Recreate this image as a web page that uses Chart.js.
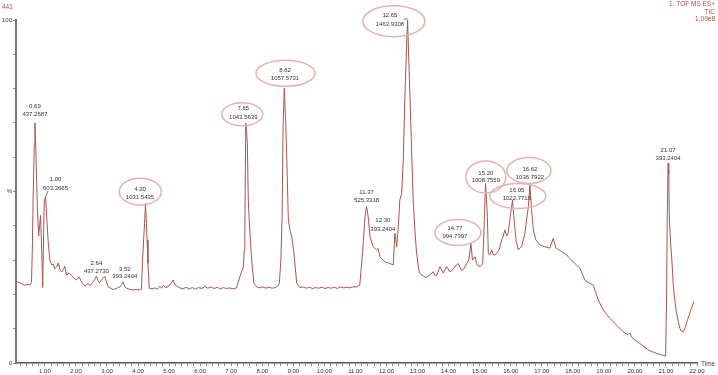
<!DOCTYPE html>
<html>
<head>
<meta charset="utf-8">
<script src="https://cdn.jsdelivr.net/npm/chart.js@4.4.1/dist/chart.umd.min.js"></script>
<style>
  html, body { margin: 0; padding: 0; background: #ffffff; }
  #wrap { width: 718px; height: 375px; }
  canvas { display: block; }
</style>
</head>
<body>
<div id="wrap"><canvas id="c" width="718" height="375"></canvas></div>
<script>
// ---------- DATA ----------
const times = [
  0.07,0.15,0.25,0.35,0.45,0.52,0.57,0.60,0.62,0.66,0.68,0.71,0.73,0.76,0.80,0.83,0.86,0.89,0.93,0.96,0.98,
  1.02,1.05,1.07,1.11,1.16,1.22,1.27,1.32,1.38,1.43,1.48,1.54,1.60,1.64,1.70,1.78,1.86,1.93,
  2.02,2.10,2.18,2.24,2.29,2.35,2.40,2.45,2.50,2.58,2.66,2.71,2.75,2.83,2.88,2.93,2.98,
  3.04,3.12,3.20,3.26,3.34,3.42,3.47,3.52,3.57,3.63,3.72,3.84,3.95,
  4.05,4.11,4.14,4.18,4.21,4.24,4.27,4.29,4.32,4.36,4.45,4.55,4.62,4.70,4.76,4.81,4.88,4.97,
  5.05,5.13,5.20,5.28,5.35,5.45,5.55,5.65,5.75,5.85,5.95,
  6.05,6.15,6.25,6.35,6.45,6.55,6.65,6.75,6.85,6.95,
  7.06,7.17,7.28,7.39,7.42,7.44,7.47,7.50,7.52,7.55,7.60,7.66,7.73,7.82,7.92,
  8.02,8.12,8.22,8.32,8.42,8.50,8.55,8.60,8.64,8.67,8.71,8.76,8.80,8.84,8.90,8.95,
  9.02,9.11,9.21,9.32,9.42,9.52,9.62,9.72,9.82,9.92,
  10.02,10.12,10.22,10.32,10.42,10.52,10.62,10.72,10.82,10.92,
  11.04,11.14,11.23,11.31,11.36,11.41,11.47,11.57,11.68,11.73,11.79,11.87,11.95,
  12.03,12.11,12.22,12.27,12.33,12.38,12.43,12.49,12.54,12.59,12.65,12.68,12.71,12.76,12.81,12.86,12.92,12.97,
  13.06,13.18,13.26,13.34,13.42,13.51,13.56,13.62,13.72,13.83,13.94,
  14.04,14.12,14.20,14.31,14.42,14.50,14.58,14.65,14.72,14.77,14.85,14.92,
  15.01,15.10,15.14,15.19,15.25,15.28,15.33,15.39,15.44,15.50,15.55,15.63,15.71,15.76,15.81,15.87,15.92,
  16.00,16.06,16.10,16.17,16.24,16.35,16.46,16.51,16.57,16.62,16.67,16.73,16.81,16.94,
  17.10,17.26,17.37,17.46,17.55,17.64,17.72,17.80,17.90,
  18.01,18.12,18.23,18.28,18.39,18.47,18.55,18.62,18.66,18.74,18.82,18.90,18.98,
  19.08,19.20,19.33,19.46,19.57,19.68,19.76,19.84,19.90,
  20.00,20.16,20.30,20.43,20.56,20.70,20.85,20.99,
  21.02,21.04,21.07,21.09,21.11,21.15,21.19,21.24,21.29,21.34,21.40,21.45,21.50,21.56,21.61,21.66,21.74,21.82,21.90
];
const intensity = [
  23.9,23.5,23.1,22.7,22.9,22.8,23.5,35,47.5,64,70,62,55,45,37,40,43,35,22,38,47,
  48.4,44,41,35,30,28.6,28.8,27.5,28,29.2,27.4,26.5,27.3,28.2,25.6,26.3,25.5,24.7,
  24.2,25.1,23.7,23.0,22.4,22.9,23.2,22.6,23.0,23.9,25.3,24.0,23.4,24.3,24.9,25.2,23.7,
  22.2,21.8,21.4,21.6,21.9,22.2,22.9,23.6,22.4,21.8,21.5,21.3,21.4,
  21.3,21.5,29,35.9,40.7,46.6,40.7,35.9,29,21.8,21.6,21.9,21.5,22.4,21.8,22.6,22.0,22.2,
  23.1,24.2,22.7,22.3,21.9,21.6,22.1,21.6,22.0,21.5,22.0,
  21.7,22.3,21.8,22.2,21.7,22.1,21.6,22.0,21.7,21.9,
  21.6,21.9,25.2,28,33,39.7,69.9,67,64,47.5,38,30,23.3,22.2,21.9,
  22.2,21.8,22.1,21.8,22.0,22.4,23.3,30,42.7,68.9,80.1,69,56,41.7,38.5,36.8,
  32,23.3,22.0,22.2,21.8,22.1,21.7,22.0,21.8,22.1,
  21.7,22.0,21.8,22.1,21.7,22.2,21.9,22.1,21.9,22.2,
  22.2,22.7,32,42.7,45.6,42.7,36.8,33.9,33,33.4,31,30.2,29.5,
  29.2,29,28.6,37.9,33.9,39.7,47.5,49.5,59,76.7,93,100,91,76.7,62,47.5,38,32,
  26.2,25.4,25.0,25.2,25.9,26.6,25.5,25.6,28.1,26.2,28.1,
  26.6,27,28.1,29,27,27.5,29,30,34.9,30,31,28.6,
  28.1,29,38.8,52.4,42.7,32,31.5,33,31.5,31.5,32,33,35.9,37,38.8,37,38,
  43.7,47.5,42.7,35.9,33,33.9,37.9,41.7,45.6,51.9,45,38.8,35.9,34.4,
  33.9,33.5,36.3,33.5,33,32.5,32,31.5,30.5,
  29.5,28.6,27.6,26.6,24.2,23.6,23.2,22.9,22.7,20.5,18.4,16.9,15.5,
  14.2,13,11.8,10.6,9.6,8.7,8.3,8.7,7.5,
  6.7,5.7,4.7,3.8,3.3,2.8,2.4,2.0,
  18.4,41.7,58.2,55,41.7,35,30,22.2,18,14.5,12,10.1,9.3,9.1,10,11.6,13.8,15.9,17.9
];

// Peak annotations (retention time label, m/z label, apex location, circled?)
const peakTimeLabels = ['0.69','1.00','2.64','3.52','4.20','7.65','8.62','11.37','12.30','12.65','14.77','15.20','16.05','16.62','21.07'];
const peakMassLabels = ['437.2687','603.3665','437.2730','393.2404','1031.5435','1043.5639','1057.5731','525.3318','393.2404','1463.9308','994.7397','1008.7559','1022.7719','1036.7922','393.2404'];
const peakApexTime  = [0.68,1.02,2.66,3.52,4.24,7.47,8.71,11.36,12.27,12.68,14.72,15.19,16.06,16.62,21.07];
const peakApexValue = [70,48.4,25.3,23.6,46.6,69.9,80.1,45.6,37.9,100,34.9,52.4,47.5,51.9,58.2];
const peakCircled   = [false,false,false,false,true,true,true,false,false,true,true,true,true,true,false];

// Axis tick labels
const yTickLabels = { 100: '100', 50: '%', 0: '0' };
const headerLeft = '441';
const headerRight = ['1: TOF MS ES+', 'TIC', '1.09e8'];
const xAxisTitle = 'Time';

// ---------- LAYOUT / STYLE (separate from data) ----------
// [label dx, line1 dy, line2 dy, ellipse dx, ellipse dy, ellipse w, ellipse h] in px relative to apex
const labelLayout = [
  [0,-17,-9],
  [10,-18,-9],
  [0,-12.5,-4.5],
  [1.7,-12.7,-5.3],
  [-5.5,-14,-5.5,-5.2,-11.5,42,27],
  [-2.5,-15,-6,-3.5,-9,41,23],
  [0.7,-18,-9.5,1.2,-15,59,26],
  [0,-14.4,-6],
  [-12,-12.3,-4],
  [-17.7,-4.3,4.5,-13.7,1.2,62,31],
  [-16,-15.3,-7.3,-13,-10.8,46,26],
  [0.3,-10.3,-3,0.3,-6.3,40,32],
  [4.3,-9.5,-2,5.3,-4,56,25],
  [0,-15.7,-8,-1,-14.5,44,26],
  [0,-13.3,-5.3]
];
const FONT = '"Liberation Sans", Arial, sans-serif';
const traceColor = '#a5564f';
const ellipseColor = '#e2b3b3';
const headerColor = '#a84a4a';

const isWhole = v => Math.abs(v - Math.round(v)) < 1e-6;

const annotate = {
  id: 'annotate',
  afterDatasetsDraw(chart) {
    const { ctx, scales: { x, y } } = chart;
    ctx.save();
    for (let i = 0; i < peakTimeLabels.length; i++) {
      const px = x.getPixelForValue(peakApexTime[i]);
      const py = y.getPixelForValue(peakApexValue[i]);
      const L = labelLayout[i];
      if (peakCircled[i]) {
        ctx.beginPath();
        ctx.ellipse(px + L[3], py + L[4], L[5] / 2, L[6] / 2, 0, 0, Math.PI * 2);
        ctx.strokeStyle = ellipseColor;
        ctx.lineWidth = 1.5;
        ctx.stroke();
      }
      ctx.fillStyle = '#333333';
      ctx.font = '6px ' + FONT;
      ctx.textAlign = 'center';
      ctx.textBaseline = 'middle';
      ctx.fillText(peakTimeLabels[i], px + L[0], py + L[1]);
      ctx.fillText(peakMassLabels[i], px + L[0], py + L[2]);
    }
    // small leader lines
    ctx.strokeStyle = '#555';
    ctx.lineWidth = 0.8;
    let px = x.getPixelForValue(peakApexTime[1]), py = y.getPixelForValue(peakApexValue[1]);
    ctx.beginPath(); ctx.moveTo(px, py); ctx.lineTo(px + 2.5, py - 6); ctx.stroke();
    px = x.getPixelForValue(peakApexTime[9]); py = y.getPixelForValue(peakApexValue[9]);
    ctx.beginPath(); ctx.moveTo(px - 4, py - 1); ctx.lineTo(px, py - 1); ctx.stroke();
    ctx.restore();
  },
  afterDraw(chart) {
    const { ctx, scales: { x } } = chart;
    ctx.save();
    ctx.font = '6.5px ' + FONT;
    ctx.fillStyle = headerColor;
    ctx.textBaseline = 'middle';
    ctx.textAlign = 'left';
    ctx.fillText(headerLeft, 2, 7);
    ctx.textAlign = 'right';
    headerRight.forEach((t, i) => ctx.fillText(t, 715, 4.5 + i * 7.3));
    ctx.fillStyle = '#444';
    ctx.textAlign = 'left';
    ctx.fillText(xAxisTitle, x.right + 4, x.top + 1);
    ctx.restore();
  }
};

new Chart(document.getElementById('c'), {
  type: 'line',
  data: {
    datasets: [{
      data: times.map((t, i) => ({ x: t, y: intensity[i] })),
      borderColor: traceColor,
      borderWidth: 1,
      pointRadius: 0,
      tension: 0,
      clip: false
    }]
  },
  options: {
    responsive: false,
    animation: false,
    parsing: false,
    layout: { padding: { top: 20, right: 21, left: 0, bottom: 0 } },
    plugins: { legend: { display: false }, tooltip: { enabled: false } },
    scales: {
      x: {
        type: 'linear', min: 0.07, max: 22.0,
        border: { color: '#555', width: 1.5 },
        grid: { drawOnChartArea: false, tickLength: 3, color: '#666', lineWidth: 0.8 },
        ticks: {
          stepSize: 0.2, autoSkip: false, includeBounds: false, maxRotation: 0, minRotation: 0,
          padding: 2, color: '#333', font: { size: 6, family: FONT },
          callback: v => (isWhole(v) && v >= 1) ? Math.round(v).toFixed(2) : ''
        },
        afterFit: s => { s.height = 12; }
      },
      y: {
        min: 0, max: 100,
        border: { color: '#777', width: 2 },
        grid: { drawOnChartArea: false, tickLength: 3, color: '#666', lineWidth: 0.8 },
        ticks: {
          stepSize: 10, autoSkip: false, padding: 1, color: '#333', font: { size: 6, family: FONT },
          callback: v => yTickLabels[Math.round(v)] !== undefined && isWhole(v) ? yTickLabels[Math.round(v)] : ''
        },
        afterFit: s => { s.width = 16; }
      }
    }
  },
  plugins: [annotate]
});
</script>
</body>
</html>
